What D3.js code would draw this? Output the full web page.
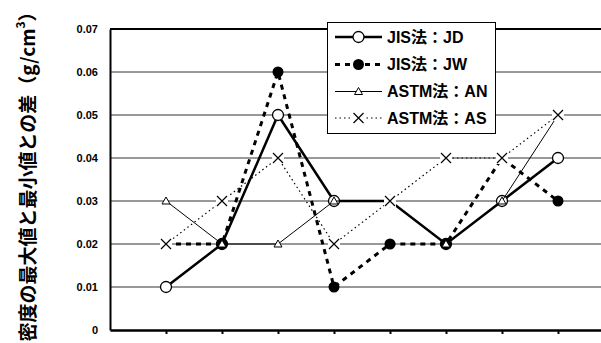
<!DOCTYPE html>
<html>
<head>
<meta charset="utf-8">
<script src="https://cdn.jsdelivr.net/npm/d3@7"></script>
<style>
  body { margin: 0; background: #fff; }
  svg { display: block; }
  .tick text { font-family: "Liberation Sans", Arial, sans-serif; font-weight: bold; font-size: 11px; }
</style>
</head>
<body>
<svg id="chart"></svg>
<script>
// data
const points = [1, 2, 3, 4, 5, 6, 7, 8];
const jd = [0.01, 0.02, 0.05, 0.03, 0.03, 0.02, 0.03, 0.04];
const jw = [0.02, 0.02, 0.06, 0.01, 0.02, 0.02, 0.04, 0.03];
const an = [0.03, 0.02, 0.02, 0.03, 0.03, 0.02, 0.03, 0.05];
const as = [0.02, 0.03, 0.04, 0.02, 0.03, 0.04, 0.04, 0.05];
const yTicks = [0, 0.01, 0.02, 0.03, 0.04, 0.05, 0.06, 0.07];
const seriesNames = ["JIS法：JD", "JIS法：JW", "ASTM法：AN", "ASTM法：AS"];

const W = 601, H = 343;
const svg = d3.select("#chart").attr("width", W).attr("height", H);

const plotLeft = 110, plotTop = 29, plotBottom = 330;
const xScale = d3.scaleLinear().domain([0, 9]).range([plotLeft, plotLeft + 56 * 9]);
const yScale = d3.scaleLinear().domain([0, 0.07]).range([plotBottom, plotTop]);

// gridlines
svg.append("g")
   .selectAll("line")
   .data(yTicks.slice(1, -1))
   .enter()
   .append("line")
   .attr("x1", plotLeft).attr("x2", W)
   .attr("y1", d => yScale(d)).attr("y2", d => yScale(d))
   .attr("stroke", "#333").attr("stroke-width", 1);

// top border
svg.append("line")
   .attr("x1", plotLeft).attr("x2", W)
   .attr("y1", yScale(0.07)).attr("y2", yScale(0.07))
   .attr("stroke", "#000").attr("stroke-width", 2);

// y axis
const yAxis = svg.append("g")
   .attr("transform", `translate(${plotLeft},0)`)
   .call(d3.axisLeft(yScale).tickValues(yTicks).tickSize(0).tickPadding(12)
        .tickFormat(d => d === 0 ? "0" : d.toFixed(2)));
yAxis.select(".domain").attr("stroke-width", 2);

// x axis
const xAxis = svg.append("g")
   .attr("transform", `translate(0,${plotBottom})`)
   .call(d3.axisBottom(xScale).tickValues(points).tickSize(4).tickSizeOuter(0).tickFormat(""));
xAxis.select(".domain").attr("stroke-width", 2.5);
xAxis.selectAll(".tick line").attr("stroke-width", 2);

// y axis title
const title = svg.append("text")
   .attr("transform", `translate(26,${172}) rotate(-90)`)
   .attr("text-anchor", "middle")
   .attr("dominant-baseline", "central")
   .style("font-family", "'Noto Sans CJK JP', sans-serif")
   .style("font-weight", "bold")
   .style("font-size", "19px");
title.append("tspan").text("密度の最大値と最小値との差（g/cm");
title.append("tspan").attr("dy", -7).style("font-size", "12px").text("3");
title.append("tspan").attr("dy", 7).text("）");

const styles = [
  { values: jd, width: 2.5, dash: null, marker: "circleOpen" },
  { values: jw, width: 3, dash: "5,5", marker: "circleFilled" },
  { values: an, width: 1, dash: null, marker: "triangle" },
  { values: as, width: 1.2, dash: "1.5,3", marker: "cross" }
];

const line = d3.line().x((d, i) => xScale(points[i])).y(d => yScale(d));

function drawMarker(g, type, x, y) {
  if (type === "circleOpen") {
    g.append("circle").attr("cx", x).attr("cy", y).attr("r", 5.5)
     .attr("fill", "#fff").attr("stroke", "#000").attr("stroke-width", 1.3);
  } else if (type === "circleFilled") {
    g.append("circle").attr("cx", x).attr("cy", y).attr("r", 5.5).attr("fill", "#000");
  } else if (type === "triangle") {
    g.append("path")
     .attr("d", `M${x},${y - 4}L${x + 4},${y + 3}L${x - 4},${y + 3}Z`)
     .attr("fill", "#fff").attr("stroke", "#000").attr("stroke-width", 1);
  } else {
    // cross marker sits on a white square, hiding what is under it
    g.append("rect").attr("x", x - 6).attr("y", y - 6).attr("width", 12).attr("height", 12)
     .attr("fill", "#fff");
    g.append("path")
     .attr("d", `M${x - 5},${y - 5}L${x + 5},${y + 5}M${x - 5},${y + 5}L${x + 5},${y - 5}`)
     .attr("stroke", "#000").attr("stroke-width", 1.2);
  }
}

styles.forEach(s => {
  const g = svg.append("g");
  g.append("path")
   .attr("d", line(s.values))
   .attr("fill", "none")
   .attr("stroke", "#000")
   .attr("stroke-width", s.width)
   .attr("stroke-dasharray", s.dash);
  s.values.forEach((v, i) => drawMarker(g, s.marker, xScale(points[i]), yScale(v)));
});

// legend
const lg = svg.append("g");
lg.append("rect")
  .attr("x", 327.5).attr("y", 22.5).attr("width", 168).attr("height", 111)
  .attr("fill", "#fff").attr("stroke", "#000").attr("stroke-width", 1);
const rowY = [37, 64.5, 91.5, 118];
seriesNames.forEach((name, i) => {
  const s = styles[i];
  const y = rowY[i];
  lg.append("line")
    .attr("x1", 335).attr("x2", 382).attr("y1", y).attr("y2", y)
    .attr("stroke", "#000").attr("stroke-width", s.width)
    .attr("stroke-dasharray", s.dash);
  drawMarker(lg, s.marker, 358.5, y);
  lg.append("text")
    .attr("x", 387).attr("y", y)
    .attr("dominant-baseline", "central")
    .style("font-family", "'Liberation Sans', 'Noto Sans CJK JP', sans-serif")
    .style("font-weight", "bold")
    .style("font-size", "16px")
    .text(name);
});
</script>
</body>
</html>
